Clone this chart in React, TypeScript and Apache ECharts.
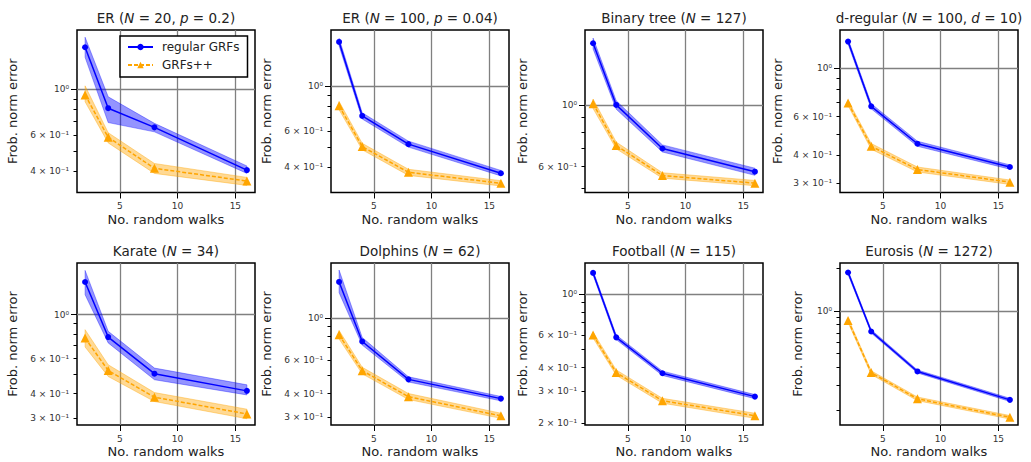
import React, { useEffect, useRef } from 'react';
import * as echarts from 'echarts';

const walks = [2, 4, 8, 16];
const titles = [
  'ER ({i|N} = 20, {i|p} = 0.2)',
  'ER ({i|N} = 100, {i|p} = 0.04)',
  'Binary tree ({i|N} = 127)',
  'd-regular ({i|N} = 100, {i|d} = 10)',
  'Karate ({i|N} = 34)',
  'Dolphins ({i|N} = 62)',
  'Football ({i|N} = 115)',
  'Eurosis ({i|N} = 1272)',
];
const regularMean = [
  [1.6, 0.81, 0.654, 0.406],
  [1.64, 0.714, 0.52, 0.375],
  [1.667, 1.0, 0.697, 0.575],
  [1.32, 0.669, 0.452, 0.354],
  [1.46, 0.771, 0.504, 0.413],
  [1.55, 0.752, 0.475, 0.376],
  [1.3, 0.583, 0.373, 0.279],
  [1.86, 0.715, 0.374, 0.236],
];
const regularUpper = [
  [1.79, 0.92, 0.684, 0.425],
  [1.71, 0.74, 0.538, 0.387],
  [1.74, 1.035, 0.718, 0.592],
  [1.355, 0.688, 0.464, 0.362],
  [1.67, 0.824, 0.538, 0.443],
  [1.79, 0.79, 0.49, 0.386],
  [1.335, 0.6, 0.383, 0.286],
  [1.92, 0.735, 0.383, 0.242],
];
const regularLower = [
  [1.43, 0.69, 0.622, 0.391],
  [1.57, 0.69, 0.503, 0.364],
  [1.59, 0.965, 0.677, 0.558],
  [1.285, 0.652, 0.44, 0.346],
  [1.26, 0.72, 0.47, 0.394],
  [1.36, 0.72, 0.46, 0.366],
  [1.265, 0.567, 0.363, 0.272],
  [1.8, 0.697, 0.365, 0.23],
];
const plusMean = [
  [0.94, 0.585, 0.414, 0.359],
  [0.8, 0.506, 0.379, 0.335],
  [1.01, 0.714, 0.557, 0.523],
  [0.693, 0.44, 0.345, 0.302],
  [0.762, 0.523, 0.384, 0.316],
  [0.816, 0.528, 0.385, 0.305],
  [0.6, 0.376, 0.265, 0.22],
  [0.855, 0.367, 0.24, 0.178],
];
const plusUpper = [
  [1.04, 0.616, 0.437, 0.374],
  [0.84, 0.525, 0.392, 0.345],
  [1.05, 0.735, 0.57, 0.535],
  [0.712, 0.453, 0.354, 0.309],
  [0.84, 0.559, 0.405, 0.334],
  [0.86, 0.55, 0.4, 0.315],
  [0.622, 0.389, 0.273, 0.227],
  [0.885, 0.378, 0.247, 0.183],
];
const plusLower = [
  [0.87, 0.55, 0.391, 0.342],
  [0.765, 0.488, 0.366, 0.325],
  [0.97, 0.695, 0.545, 0.512],
  [0.674, 0.427, 0.336, 0.295],
  [0.687, 0.488, 0.365, 0.299],
  [0.775, 0.508, 0.372, 0.296],
  [0.578, 0.364, 0.257, 0.213],
  [0.826, 0.356, 0.233, 0.173],
];
const yMin = [0.316, 0.302, 0.484, 0.271, 0.278, 0.273, 0.196, 0.157];
const yMax = [1.94, 1.876, 1.86, 1.49, 1.82, 1.95, 1.47, 2.17];
const yLabelTicks = [
  [1, 0.6, 0.4],
  [1, 0.6, 0.4],
  [1, 0.6],
  [1, 0.6, 0.4, 0.3],
  [1, 0.6, 0.4, 0.3],
  [1, 0.6, 0.4, 0.3],
  [1, 0.6, 0.4, 0.3, 0.2],
  [1],
];
const minorTickValues = [0.2, 0.3, 0.4, 0.5, 0.6, 0.7, 0.8, 0.9, 2, 3, 4, 5, 6, 7, 8, 9];
const majorTickValues = [0.1, 1, 10];
const xTicks = [5, 10, 15];
const seriesNames = ['regular GRFs', 'GRFs++'];

const FONT = 'DejaVu Sans';
const BLUE = '#0000ff';
const ORANGE = '#ffa500';
const BAND_FILL = ['rgba(0,0,255,0.42)', 'rgba(255,165,0,0.42)'];
const BAND_EDGE = ['rgba(0,0,255,0.35)', 'rgba(255,165,0,0.4)'];
const GRID_LEFTS = [77, 331, 585, 840];
const GRID_TOPS = [30, 263];
const GRID_H = [162.5, 162];
const GRID_W = 178;
const Y_NAME_GAP = [58, 58, 56, 56, 58, 58, 56, 36];

function fmtY(v: number): string {
  if (Math.abs(v - 1) < 1e-6) return '10⁰';
  if (v < 1) return `${Math.round(v * 10)} × 10⁻¹`;
  return `${Math.round(v)} × 10⁰`;
}

function bandItem(up: number[], low: number[]): number[] {
  const item: number[] = [];
  walks.forEach((x, k) => {
    item.push(x, low[k], up[k]);
  });
  return item;
}

function makeBandRenderer(fill: string, edge: string) {
  return (params: any, api: any) => {
    const upperPts: number[][] = [];
    const lowerPts: number[][] = [];
    for (let k = 0; k < walks.length; k++) {
      const x = api.value(3 * k);
      lowerPts.push(api.coord([x, api.value(3 * k + 1)]));
      upperPts.push(api.coord([x, api.value(3 * k + 2)]));
    }
    return {
      type: 'polygon',
      silent: true,
      shape: { points: upperPts.concat(lowerPts.reverse()) },
      style: { fill, stroke: edge, lineWidth: 1 },
    };
  };
}

function buildOption() {
  const grid: any[] = [];
  const xAxis: any[] = [];
  const yAxis: any[] = [];
  const series: any[] = [];
  for (let i = 0; i < 8; i++) {
    const row = Math.floor(i / 4);
    const col = i % 4;
    const lo = yMin[i];
    const hi = yMax[i];
    grid.push({
      left: GRID_LEFTS[col],
      top: GRID_TOPS[row],
      width: GRID_W,
      height: GRID_H[row],
      show: true,
      borderColor: '#000',
      borderWidth: 1.5,
      backgroundColor: 'transparent',
    });
    xAxis.push({
      gridIndex: i,
      type: 'value',
      min: 1.3,
      max: 16.7,
      position: 'bottom',
      axisLine: { show: false },
      axisTick: { show: true, customValues: xTicks, length: 6, lineStyle: { color: '#000', width: 1 } },
      axisLabel: { customValues: xTicks, fontSize: 9, color: '#333', fontFamily: FONT, margin: 9 },
      splitLine: { show: false },
      name: 'No. random walks',
      nameLocation: 'middle',
      nameGap: 20,
      nameTextStyle: { fontSize: 13, fontFamily: FONT, color: '#222' },
    });
    xAxis.push({
      gridIndex: i,
      type: 'value',
      min: 1.3,
      max: 16.7,
      position: 'top',
      axisLine: { show: false },
      axisTick: { show: false },
      axisLabel: { show: false },
      splitLine: { show: false },
      name: titles[i],
      nameLocation: 'middle',
      nameGap: 5,
      nameTextStyle: {
        fontSize: 13.5,
        fontFamily: FONT,
        color: '#222',
        rich: { i: { fontStyle: 'italic', fontSize: 13.5, fontFamily: FONT, color: '#222' } },
      },
    });
    yAxis.push({
      gridIndex: i,
      type: 'log',
      logBase: 10,
      min: lo,
      max: hi,
      position: 'left',
      axisLine: { show: false },
      axisTick: {
        show: true,
        customValues: minorTickValues.filter((v) => v >= lo && v <= hi),
        length: 3.5,
        lineStyle: { color: '#000', width: 1 },
      },
      axisLabel: {
        customValues: yLabelTicks[i].filter((v) => v >= lo && v <= hi),
        formatter: fmtY,
        fontSize: 9,
        color: '#333',
        fontFamily: FONT,
        margin: 8,
      },
      splitLine: { show: false },
      name: 'Frob. norm error',
      nameLocation: 'middle',
      nameGap: Y_NAME_GAP[i],
      nameTextStyle: { fontSize: 13, fontFamily: FONT, color: '#222' },
    });
    yAxis.push({
      gridIndex: i,
      type: 'log',
      logBase: 10,
      min: lo,
      max: hi,
      position: 'left',
      offset: 0,
      axisLine: { show: false },
      axisTick: {
        show: true,
        customValues: majorTickValues.filter((v) => v >= lo && v <= hi),
        length: 6,
        lineStyle: { color: '#000', width: 1 },
      },
      axisLabel: { show: false },
      splitLine: { show: false },
    });
    const xi = 2 * i;
    const yi = 2 * i;
    const pts = (arr: number[]) => walks.map((x, k) => [x, arr[k]]);
    const bands = [
      { up: regularUpper[i], low: regularLower[i] },
      { up: plusUpper[i], low: plusLower[i] },
    ];
    bands.forEach((b, bi) => {
      series.push({
        type: 'custom',
        name: seriesNames[bi] + ' band',
        xAxisIndex: xi,
        yAxisIndex: yi,
        silent: true,
        z: 2,
        data: [bandItem(b.up, b.low)],
        renderItem: makeBandRenderer(BAND_FILL[bi], BAND_EDGE[bi]),
      });
    });
    series.push({
      type: 'line',
      name: 'regular GRFs',
      xAxisIndex: xi,
      yAxisIndex: yi,
      data: pts(regularMean[i]),
      symbol: 'circle',
      symbolSize: 6,
      itemStyle: { color: BLUE },
      lineStyle: { color: BLUE, width: 1.5 },
      z: 4,
      markLine: {
        silent: true,
        z: 1,
        symbol: ['none', 'none'],
        label: { show: false },
        lineStyle: { color: '#808080', width: 1.3, type: 'solid' },
        data: [{ xAxis: 5 }, { xAxis: 10 }, { xAxis: 15 }, { yAxis: 1 }],
      },
    });
    series.push({
      type: 'line',
      name: 'GRFs++',
      xAxisIndex: xi,
      yAxisIndex: yi,
      data: pts(plusMean[i]),
      symbol: 'triangle',
      symbolSize: 9,
      itemStyle: { color: ORANGE },
      lineStyle: { color: ORANGE, width: 1.5, type: [4, 2] },
      z: 4,
    });
  }
  return {
    animation: false,
    backgroundColor: '#fff',
    textStyle: { fontFamily: FONT },
    grid,
    xAxis,
    yAxis,
    series,
    legend: {
      data: seriesNames,
      orient: 'vertical',
      left: 120,
      top: 36,
      itemWidth: 25,
      itemHeight: 8,
      itemGap: 6,
      padding: [5, 8, 6, 7],
      borderColor: '#000',
      borderWidth: 1.5,
      borderRadius: 0,
      backgroundColor: '#fff',
      selectedMode: false,
      textStyle: { fontSize: 12, fontFamily: FONT, color: '#222', padding: [0, 0, 0, 4] },
    },
  };
}

export default function App() {
  const ref = useRef<HTMLDivElement>(null);
  useEffect(() => {
    const chart = echarts.init(ref.current as HTMLDivElement, null, { renderer: 'svg' });
    chart.setOption(buildOption() as any);
    return () => chart.dispose();
  }, []);
  return (
    <div
      ref={ref}
      style={{ position: 'absolute', left: 0, top: 0, width: 1031, height: 462, background: '#fff' }}
    />
  );
}
